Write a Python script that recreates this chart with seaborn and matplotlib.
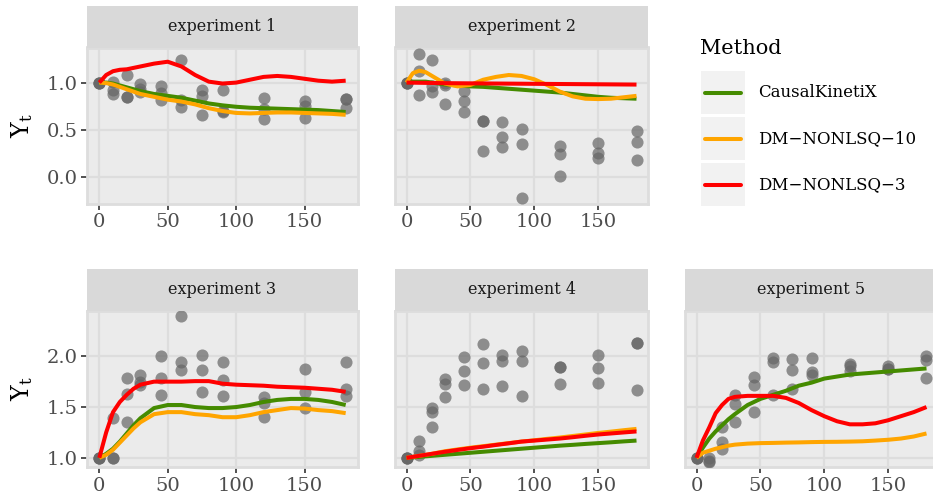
import numpy as np
import pandas as pd
import matplotlib
matplotlib.use("Agg")
import matplotlib.pyplot as plt
import seaborn as sns
from matplotlib.lines import Line2D
from matplotlib.patches import Rectangle

# ---------------- data ----------------
times = [0, 10, 20, 30, 45, 60, 75, 90, 120, 150, 180]

# observed points: 3 replicates per time (first time point shared)
obs1 = [[1.0, 1.0, 1.0], [1.01, 0.92, 0.88], [1.08, 0.85, 0.85], [0.98, 0.93, 0.90],
        [0.96, 0.89, 0.82], [1.24, 0.82, 0.74], [0.92, 0.86, 0.66], [0.92, 0.70, 0.69],
        [0.84, 0.72, 0.62], [0.81, 0.75, 0.63], [0.83, 0.83, 0.73]]
obs2 = [[1.0, 1.0, 1.0], [1.30, 1.125, 0.87], [1.24, 0.96, 0.90], [1.0, 0.975, 0.77],
        [0.91, 0.81, 0.69], [0.60, 0.59, 0.28], [0.58, 0.43, 0.32], [0.51, 0.35, -0.215],
        [0.33, 0.25, 0.02], [0.36, 0.26, 0.20], [0.49, 0.37, 0.18]]
obs3 = [[1.0, 1.0, 1.0], [1.39, 1.0, 1.0], [1.79, 1.63, 1.35], [1.82, 1.75, 1.72],
        [2.0, 1.79, 1.62], [2.40, 1.94, 1.86], [2.01, 1.86, 1.65], [1.94, 1.77, 1.61],
        [1.60, 1.535, 1.40], [1.87, 1.65, 1.49], [1.94, 1.68, 1.61]]
obs4 = [[1.0, 1.0, 1.0], [1.17, 1.07, 1.03], [1.49, 1.45, 1.30], [1.78, 1.73, 1.60],
        [1.99, 1.85, 1.72], [2.12, 1.93, 1.68], [2.01, 1.95, 1.71], [2.05, 1.95, 1.61],
        [1.89, 1.89, 1.73], [2.01, 1.88, 1.74], [2.13, 2.13, 1.67]]
obs5 = [[1.0, 1.0, 1.0], [1.0, 0.97, 0.96], [1.30, 1.16, 1.09], [1.62, 1.53, 1.35],
        [1.80, 1.72, 1.45], [1.98, 1.94, 1.62], [1.97, 1.86, 1.68], [1.98, 1.84, 1.82],
        [1.92, 1.90, 1.85], [1.90, 1.87, 1.87], [2.0, 1.96, 1.79]]

# fitted curves, read at these times
fit_t = [0, 5, 10, 15, 20, 25, 30, 40, 50, 60, 70, 80, 90, 100, 110, 120, 130, 140, 150, 160, 170, 180]

ckx1 = [1.0, 1.0, 0.99, 0.97, 0.95, 0.93, 0.91, 0.88, 0.86, 0.84, 0.81, 0.78, 0.76, 0.745, 0.735, 0.73, 0.725, 0.72, 0.715, 0.71, 0.70, 0.69]
d10_1 = [1.0, 0.995, 0.98, 0.955, 0.93, 0.905, 0.88, 0.85, 0.82, 0.80, 0.77, 0.73, 0.70, 0.68, 0.675, 0.68, 0.685, 0.685, 0.68, 0.675, 0.67, 0.66]
d3_1 = [1.0, 1.08, 1.12, 1.135, 1.14, 1.155, 1.17, 1.20, 1.22, 1.17, 1.08, 1.01, 0.99, 1.0, 1.03, 1.06, 1.07, 1.06, 1.04, 1.02, 1.01, 1.02]

ckx2 = [1.0, 1.01, 1.01, 1.01, 1.0, 0.99, 0.98, 0.97, 0.96, 0.955, 0.945, 0.935, 0.925, 0.915, 0.905, 0.895, 0.88, 0.865, 0.85, 0.84, 0.835, 0.83]
d10_2 = [1.0, 1.10, 1.125, 1.11, 1.07, 1.03, 0.99, 0.96, 0.975, 1.03, 1.06, 1.08, 1.07, 1.035, 0.975, 0.905, 0.855, 0.83, 0.826, 0.83, 0.845, 0.86]
d3_2 = [1.0, 0.999, 0.998, 0.997, 0.996, 0.995, 0.994, 0.993, 0.992, 0.991, 0.99, 0.989, 0.988, 0.987, 0.986, 0.985, 0.984, 0.983, 0.982, 0.981, 0.98, 0.979]

ckx3 = [1.0, 1.04, 1.09, 1.16, 1.24, 1.32, 1.39, 1.49, 1.52, 1.52, 1.50, 1.49, 1.49, 1.50, 1.52, 1.55, 1.57, 1.58, 1.58, 1.57, 1.55, 1.52]
d10_3 = [1.0, 1.03, 1.08, 1.15, 1.22, 1.29, 1.35, 1.43, 1.45, 1.45, 1.43, 1.42, 1.40, 1.40, 1.42, 1.45, 1.47, 1.49, 1.485, 1.47, 1.46, 1.44]
d3_3 = [1.0, 1.25, 1.45, 1.55, 1.62, 1.68, 1.72, 1.75, 1.75, 1.75, 1.755, 1.755, 1.73, 1.72, 1.715, 1.71, 1.70, 1.695, 1.69, 1.68, 1.67, 1.65]

ckx4 = [1.0, 1.005, 1.01, 1.015, 1.02, 1.025, 1.03, 1.04, 1.05, 1.06, 1.07, 1.08, 1.09, 1.10, 1.11, 1.12, 1.128, 1.137, 1.145, 1.153, 1.162, 1.17]
d10_4 = [1.0, 1.01, 1.02, 1.03, 1.04, 1.053, 1.065, 1.083, 1.10, 1.115, 1.13, 1.145, 1.16, 1.173, 1.187, 1.20, 1.215, 1.23, 1.245, 1.258, 1.272, 1.285]
d3_4 = [1.0, 1.01, 1.02, 1.03, 1.04, 1.05, 1.06, 1.078, 1.095, 1.11, 1.127, 1.143, 1.16, 1.17, 1.18, 1.19, 1.203, 1.217, 1.23, 1.24, 1.25, 1.26]

ckx5 = [1.0, 1.10, 1.19, 1.26, 1.32, 1.38, 1.43, 1.52, 1.58, 1.62, 1.66, 1.71, 1.74, 1.78, 1.80, 1.82, 1.83, 1.84, 1.85, 1.86, 1.87, 1.88]
d10_5 = [1.0, 1.05, 1.07, 1.09, 1.105, 1.12, 1.13, 1.14, 1.145, 1.147, 1.15, 1.152, 1.155, 1.157, 1.158, 1.16, 1.163, 1.17, 1.178, 1.19, 1.21, 1.24]
d3_5 = [1.0, 1.17, 1.30, 1.44, 1.52, 1.58, 1.60, 1.61, 1.61, 1.61, 1.59, 1.54, 1.47, 1.41, 1.36, 1.33, 1.33, 1.34, 1.37, 1.41, 1.45, 1.50]

methods = ["CausalKinetiX", "DM\u2212NONLSQ\u221210", "DM\u2212NONLSQ\u22123"]
method_colors = ["#458B00", "#FFA500", "#FF0000"]
experiments = ["experiment 1", "experiment 2", "experiment 3", "experiment 4", "experiment 5"]
obs_all = [obs1, obs2, obs3, obs4, obs5]
fits_all = [[ckx1, d10_1, d3_1], [ckx2, d10_2, d3_2], [ckx3, d10_3, d3_3],
            [ckx4, d10_4, d3_4], [ckx5, d10_5, d3_5]]
x_ticks = [0, 50, 100, 150]
y_ticks_top = [0.0, 0.5, 1.0]
y_ticks_bot = [1.0, 1.5, 2.0]

# ---------------- style ----------------
sns.set_theme(style="darkgrid")
plt.rcParams["font.family"] = ["DejaVu Serif"]
plt.rcParams["mathtext.fontset"] = "dejavuserif"

W, H = 933, 504
fig = plt.figure(figsize=(W / 100, H / 100), dpi=100)
fig.patch.set_facecolor("white")

def frac(x0, y0, x1, y1):
    return [x0 / W, 1 - y1 / H, (x1 - x0) / W, (y1 - y0) / H]

cols_top = [(87, 358), (395, 648)]
cols_bot = [(87, 358), (395, 648), (685, 938)]
row_top = dict(plot=(47.5, 203.5), strip=(6, 47.5), ylim=(-0.275, 1.37), yt=y_ticks_top)
row_bot = dict(plot=(310.5, 467), strip=(269, 310.5), ylim=(0.91, 2.45), yt=y_ticks_bot)

layout = [(cols_top[0], row_top), (cols_top[1], row_top),
          (cols_bot[0], row_bot), (cols_bot[1], row_bot), (cols_bot[2], row_bot)]

grid_col = "#DDDDDD"
for i, ((xl, xr), row) in enumerate(layout):
    pt, pb = row["plot"]
    st, sb = row["strip"]
    ax = fig.add_axes(frac(xl, pt, xr, pb))
    ax.set_facecolor("#EBEBEB")
    obs = obs_all[i]
    pts = pd.DataFrame({"time": np.repeat(times, 3), "Y": np.array(obs).ravel()})
    sns.scatterplot(data=pts, x="time", y="Y", ax=ax, color="#666666", alpha=0.7,
                    s=76, linewidth=0, zorder=3)
    fit_df = pd.DataFrame({
        "time": np.tile(fit_t, 3),
        "Y": np.concatenate(fits_all[i]),
        "Method": np.repeat(methods, len(fit_t)),
    })
    sns.lineplot(data=fit_df, x="time", y="Y", hue="Method", hue_order=methods,
                 palette=method_colors, ax=ax, linewidth=2.9, legend=False,
                 zorder=4, estimator=None, sort=False)
    for ln in ax.lines:
        ln.set_solid_joinstyle("round")
        ln.set_solid_capstyle("butt")
    ax.set_xlim(-9, 189)
    ax.set_ylim(*row["ylim"])
    ax.set_xticks(x_ticks)
    ax.set_xticklabels([str(t) for t in x_ticks])
    ax.grid(True, color=grid_col, linewidth=1.6)
    ax.set_axisbelow(True)
    for sp in ax.spines.values():
        sp.set_visible(True)
        sp.set_color(grid_col)
        sp.set_linewidth(2.0)
    ax.tick_params(axis="x", length=4, width=1.2, color="#333333", labelsize=14,
                   labelcolor="#4D4D4D", pad=3, bottom=True)
    ax.set_xlabel("")
    ax.set_ylabel("")
    ax.set_yticks(row["yt"])
    if xl == 87:
        ax.set_yticklabels([f"{v:.1f}" for v in row["yt"]])
        ax.tick_params(axis="y", length=4, width=1.2, color="#333333", labelsize=14,
                       labelcolor="#4D4D4D", pad=3, left=True)
        ax.set_ylabel(r"$\mathregular{Y_t}$", fontsize=17, color="black", labelpad=8)
    else:
        ax.tick_params(axis="y", left=False, labelleft=False)
    sax = fig.add_axes(frac(xl, st, xr, sb))
    sax.set_facecolor("#D9D9D9")
    sax.grid(False)
    sax.set_xticks([])
    sax.set_yticks([])
    for sp in sax.spines.values():
        sp.set_visible(False)
    sax.text(0.5, 0.5, experiments[i], ha="center", va="center", fontsize=11.5,
             color="#1A1A1A", transform=sax.transAxes)

fig.text(700 / W, 1 - 48 / H, "Method", fontsize=15, ha="left", va="center", color="black")
for k, (m, c) in enumerate(zip(methods, method_colors)):
    top = 71 + k * 46
    fig.patches.append(Rectangle((701 / W, 1 - (top + 43) / H), 44 / W, 43 / H,
                                 transform=fig.transFigure, facecolor="#F2F2F2",
                                 edgecolor="none"))
    yc = 1 - (top + 21.5) / H
    fig.lines.append(Line2D([705 / W, 741 / W], [yc, yc], transform=fig.transFigure,
                            color=c, linewidth=2.9))
    fig.text(758 / W, yc, m, fontsize=12, ha="left", va="center", color="black")

fig.savefig("out.png", dpi=100)
